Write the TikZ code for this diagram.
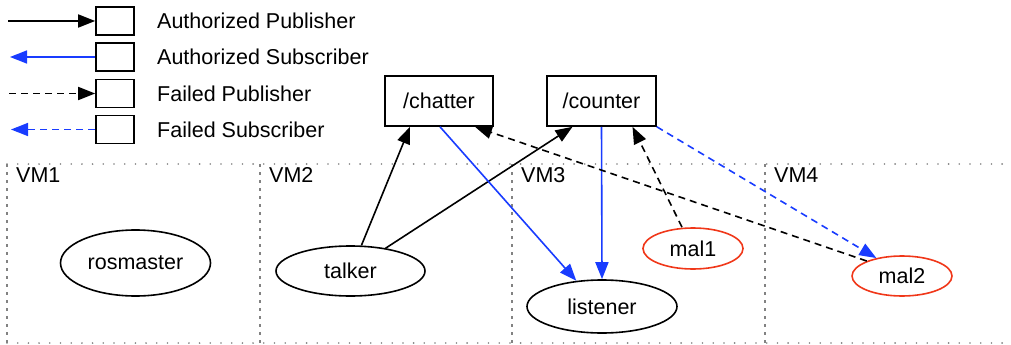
\documentclass[tikz,border=0pt]{standalone}
\usepackage{fontspec}
\setmainfont{Liberation Sans}
\usetikzlibrary{arrows.meta,shapes.geometric,calc}
\definecolor{subblue}{RGB}{25,60,255}
\definecolor{malred}{RGB}{240,55,25}
\definecolor{vmgray}{RGB}{130,130,130}
\tikzset{
  lbl/.style={font=\fontsize{21.5}{25}\selectfont, inner sep=0pt},
  topic/.style={draw, line width=1.6pt, minimum width=108pt, minimum height=50pt, inner sep=0pt, font=\fontsize{21.5}{25}\selectfont},
  legbox/.style={draw, line width=1.6pt, minimum width=38pt, minimum height=28pt, inner sep=0pt},
  proc/.style={draw, ellipse, line width=1.6pt, inner sep=0pt, font=\fontsize{21.5}{25}\selectfont},
  malproc/.style={proc, draw=malred},
  tip/.style={-{Triangle[length=17pt,width=13pt]}},
  pub/.style={tip, line width=1.6pt},
  sub/.style={tip, line width=1.6pt, subblue},
  failpub/.style={tip, line width=1.6pt, dash pattern=on 7pt off 5pt},
  failsub/.style={tip, line width=1.6pt, subblue, dash pattern=on 7pt off 5pt},
  vmrow/.style={vmgray, line width=1.8pt, line cap=round, dash pattern=on 0pt off 10.7pt},
  vmcol/.style={vmgray, line width=1.3pt, dash pattern=on 3pt off 5pt},
}
\begin{document}
\begin{tikzpicture}[x=1pt,y=-1pt]
\useasboundingbox (0,0) rectangle (1011,345);

% virtual machine partitions
\draw[vmrow] (7,164) -- (1011,164);
\draw[vmrow] (7,343) -- (1011,343);
\draw[vmcol] (7,164) -- (7,343);
\draw[vmcol] (260,164) -- (260,343);
\draw[vmcol] (512,164) -- (512,343);
\draw[vmcol] (765,164) -- (765,343);
\node[lbl, anchor=west] (vm1) at (16,175) {VM1};
\node[lbl, anchor=west] (vm2) at (269,175) {VM2};
\node[lbl, anchor=west] (vm3) at (521,175) {VM3};
\node[lbl, anchor=west] (vm4) at (774,175) {VM4};

% legend
\node[legbox] (lb1) at (115,21) {};
\node[legbox] (lb2) at (115,57) {};
\node[legbox] (lb3) at (115,93.5) {};
\node[legbox] (lb4) at (115,129.5) {};
\coordinate (le1) at (8,21);
\coordinate (le2) at (10,57);
\coordinate (le3) at (9,93.5);
\coordinate (le4) at (11,129.5);
\draw[pub] (le1) -- (lb1.west);
\draw[sub] (lb2.west) -- (le2);
\draw[failpub] (le3) -- (lb3.west);
\draw[failsub] (lb4.west) -- (le4);
\node[lbl, anchor=west] (t1) at (157,21) {Authorized Publisher};
\node[lbl, anchor=west] (t2) at (157,57) {Authorized Subscriber};
\node[lbl, anchor=west] (t3) at (157,93.5) {Failed Publisher};
\node[lbl, anchor=west] (t4) at (157,129.5) {Failed Subscriber};

% topics
\node[topic] (chatter) at (439,101) {/chatter};
\node[topic, minimum width=109pt] (counter) at (601.5,101) {/counter};

% processes
\node[proc, minimum width=150pt, minimum height=66pt] (rosmaster) at (135.5,263) {rosmaster};
\node[proc, minimum width=149pt, minimum height=50pt] (talker) at (350.5,271) {talker};
\node[proc, minimum width=150pt, minimum height=53pt] (listener) at (602,306.5) {listener};
\node[malproc, minimum width=100pt, minimum height=41pt] (mal1) at (693,248.5) {mal1};
\node[malproc, minimum width=100pt, minimum height=40pt] (mal2) at (902,276) {mal2};

% connections
\draw[pub] ([xshift=11pt]talker.north) -- ([xshift=-29pt]chatter.south);
\draw[pub] (talker.33) -- ([xshift=-29pt]counter.south);
\draw[sub] ([xshift=1pt]chatter.south) -- (listener.135);
\draw[sub] (counter.south) -- (listener.north);
\draw[failpub] ([xshift=-11pt]mal1.north) -- ([xshift=31pt]counter.south);
\draw[failpub] (mal2.157) -- ([xshift=36pt]chatter.south);
\draw[failsub] (counter.south east) -- (mal2.145);
\end{tikzpicture}
\end{document}
